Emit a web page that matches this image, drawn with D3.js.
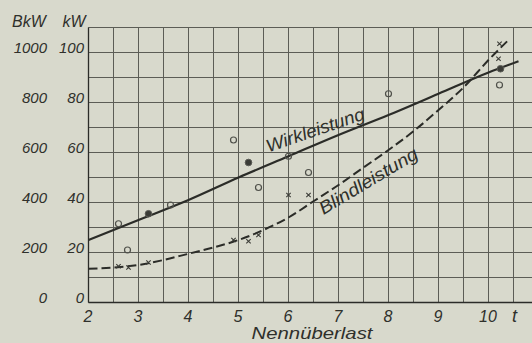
<!DOCTYPE html>
<html>
<head>
<meta charset="utf-8">
<script src="https://cdn.jsdelivr.net/npm/d3@7"></script>
<style>
  body { margin: 0; background: #d8d9cc; }
  svg { display: block; }
  text { font-family: 'Liberation Sans', sans-serif; font-style: italic; fill: #2f302b; }
</style>
</head>
<body>
<div id="chart"></div>
<script>
// Axis labels
const xTicks = [2, 3, 4, 5, 6, 7, 8, 9, 10];
const kwTicks = [0, 20, 40, 60, 80, 100];

// Wirkleistung (solid line), kW over Nennüberlast t
const wirkT  = [2, 3, 4, 5, 6, 7, 8, 9, 10, 10.6];
const wirkKW = [25, 33, 41, 50, 58.5, 67, 75, 83.5, 92, 96.5];

// Blindleistung (dashed line)
const blindT  = [2, 2.5, 3, 3.5, 4, 4.5, 5, 5.5, 6, 6.5, 7, 7.5, 8, 8.5, 9, 9.5, 10, 10.4];
const blindKW = [13.5, 14, 15, 17, 19.5, 22, 25, 29, 34, 40.5, 47, 54, 61, 68.5, 77, 86, 97, 105];

// measured points
const circleT  = [2.6, 2.78, 3.64, 4.9, 5.4, 6.0, 6.4, 8.0, 10.22];
const circleKW = [31.5, 21, 39, 65, 46, 58.5, 52, 83.5, 87];
const dotT  = [3.2, 5.2, 10.24];
const dotKW = [35.5, 56, 93.5];
const crossT  = [2.6, 2.8, 3.2, 4.9, 5.2, 5.4, 6.0, 6.4, 10.2, 10.22];
const crossKW = [14.5, 14, 16, 25, 24.5, 27, 43, 43, 97.5, 103.5];

const W = 532, H = 343;
const ink = '#2b2c28';
const gridInk = '#5c5d56';

let svg = d3.select('#chart').append('svg')
    .attr('width', W).attr('height', H);

svg.append('rect').attr('width', W).attr('height', H).attr('fill', '#d8d9cc');

let x = d3.scaleLinear().domain([2, 10.5]).range([88.5, 513.5]);
let y = d3.scaleLinear().domain([0, 110]).range([302.5, 27.5]);

// grid: every half t and every 10 kW, running off the right edge like the paper
let gridT = d3.range(2, 11.01, 0.5);
let gridKW = d3.range(0, 110.1, 10);

svg.append('g')
    .selectAll('line').data(gridT).enter().append('line')
    .attr('x1', d => x(d)).attr('x2', d => x(d))
    .attr('y1', y(110)).attr('y2', y(0))
    .attr('stroke', gridInk).attr('stroke-width', 1);

svg.append('g')
    .selectAll('line').data(gridKW).enter().append('line')
    .attr('x1', x(2)).attr('x2', W)
    .attr('y1', d => y(d)).attr('y2', d => y(d))
    .attr('stroke', gridInk).attr('stroke-width', 1);

// left axis line and bottom line a bit stronger
svg.append('line').attr('x1', x(2)).attr('x2', x(2)).attr('y1', y(110)).attr('y2', y(0))
    .attr('stroke', ink).attr('stroke-width', 1.3);
svg.append('line').attr('x1', x(2)).attr('x2', W).attr('y1', y(0)).attr('y2', y(0))
    .attr('stroke', ink).attr('stroke-width', 1.3);

// kW labels and BkW labels (BkW = 10 x kW)
let kwAxis = d3.axisLeft(y).tickValues(kwTicks).tickSize(0).tickPadding(0).tickFormat(d => d);
let kwNode = svg.append('g').attr('transform', 'translate(84,0)').call(kwAxis);
let bkwAxis = d3.axisLeft(y).tickValues(kwTicks).tickSize(0).tickPadding(0).tickFormat(d => d * 10);
let bkwNode = svg.append('g').attr('transform', 'translate(47,0)').call(bkwAxis);
[kwNode, bkwNode].forEach(n => {
    n.select('path').remove();
    n.selectAll('text').attr('dy', 0).attr('fill', ink)
        .style('font-size', '15px').style('font-family', "'Liberation Sans', sans-serif").style('font-style', 'italic');
});

// x labels
let xAxis = d3.axisBottom(x).tickValues(xTicks).tickSize(0).tickPadding(0).tickFormat(d => d);
let xNode = svg.append('g').attr('transform', 'translate(-1,' + (y(0) + 19) + ')').call(xAxis);
xNode.select('path').remove();
xNode.selectAll('text').attr('dy', 0).attr('fill', ink)
    .style('font-size', '16px').style('font-family', "'Liberation Sans', sans-serif").style('font-style', 'italic');

svg.append('text').attr('x', x(10.5) + 1).attr('y', y(0) + 19).attr('text-anchor', 'middle')
    .style('font-size', '18px').text('t');

// units on top of the y labels
svg.append('text').attr('x', 29).attr('y', 27).attr('text-anchor', 'middle')
    .style('font-size', '16px').text('BkW');
svg.append('text').attr('x', 74).attr('y', 27).attr('text-anchor', 'middle')
    .style('font-size', '16px').text('kW');

svg.append('text').attr('x', 312).attr('y', 339).attr('text-anchor', 'middle')
    .attr('textLength', 121).attr('lengthAdjust', 'spacingAndGlyphs')
    .style('font-size', '17px').text('Nennüberlast');

// curves
let curveLine = d3.line().curve(d3.curveMonotoneX)
    .x(d => x(d[0])).y(d => y(d[1]));

svg.append('path')
    .attr('d', curveLine(d3.zip(wirkT, wirkKW)))
    .attr('fill', 'none').attr('stroke', ink).attr('stroke-width', 2.2);

svg.append('path')
    .attr('d', curveLine(d3.zip(blindT, blindKW)))
    .attr('fill', 'none').attr('stroke', ink).attr('stroke-width', 2)
    .attr('stroke-dasharray', '9,4');

// measurement markers
svg.append('g').selectAll('circle').data(d3.zip(circleT, circleKW)).enter().append('circle')
    .attr('cx', d => x(d[0])).attr('cy', d => y(d[1])).attr('r', 3)
    .attr('fill', 'none').attr('stroke', '#4f504a').attr('stroke-width', 1.2);

svg.append('g').selectAll('circle').data(d3.zip(dotT, dotKW)).enter().append('circle')
    .attr('cx', d => x(d[0])).attr('cy', d => y(d[1])).attr('r', 3.3)
    .attr('fill', '#3a3b36').attr('stroke', '#5a5b55').attr('stroke-width', 1);

let cr = 2.2;
svg.append('g').selectAll('path').data(d3.zip(crossT, crossKW)).enter().append('path')
    .attr('d', d => {
        let cx = x(d[0]), cy = y(d[1]);
        return 'M' + (cx - cr) + ',' + (cy - cr) + 'L' + (cx + cr) + ',' + (cy + cr) +
               'M' + (cx - cr) + ',' + (cy + cr) + 'L' + (cx + cr) + ',' + (cy - cr);
    })
    .attr('stroke', '#3a3b36').attr('stroke-width', 1.1);

// curve names written along the lines
svg.append('text')
    .attr('transform', 'translate(' + x(5.6) + ',' + y(60) + ') rotate(-19)')
    .attr('textLength', 103).attr('lengthAdjust', 'spacingAndGlyphs')
    .style('font-size', '18px').text('Wirkleistung');

svg.append('text')
    .attr('transform', 'translate(' + x(6.7) + ',' + y(35) + ') rotate(-31)')
    .attr('textLength', 112).attr('lengthAdjust', 'spacingAndGlyphs')
    .style('font-size', '18px').text('Blindleistung');
</script>
</body>
</html>
